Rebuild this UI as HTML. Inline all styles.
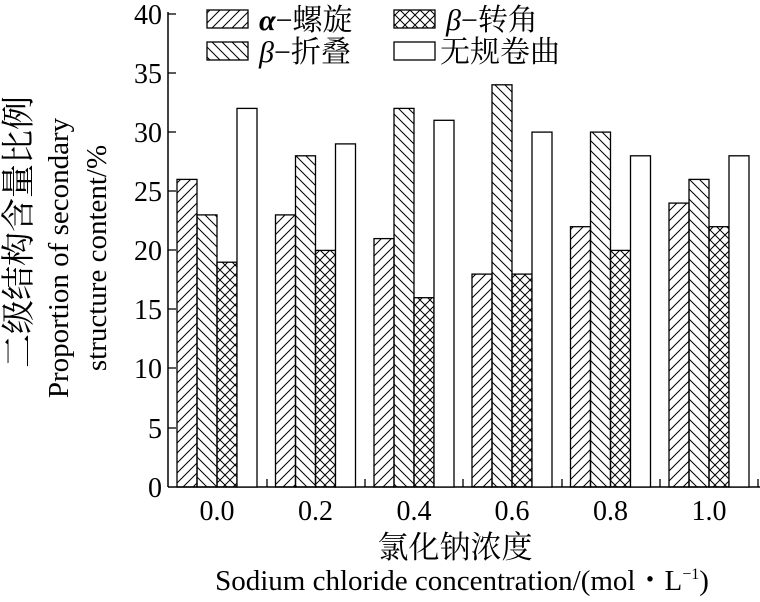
<!DOCTYPE html>
<html><head><meta charset="utf-8"><style>
body{margin:0;background:#fff}
svg text{font-family:"Liberation Serif","Noto Serif CJK SC",serif;fill:#000}
</style></head><body>
<svg width="760" height="597" xmlns="http://www.w3.org/2000/svg">
<defs>
<pattern id="fw" patternUnits="userSpaceOnUse" width="10" height="10"><path d="M-2,12 L12,-2 M-2,2 L2,-2 M8,12 L12,8" stroke="#000" stroke-width="1"/></pattern>
<pattern id="bw" patternUnits="userSpaceOnUse" width="10" height="10"><path d="M-2,-2 L12,12 M8,-2 L12,2 M-2,8 L2,12" stroke="#000" stroke-width="1"/></pattern>
<pattern id="xx" patternUnits="userSpaceOnUse" width="10" height="10"><path d="M-2,12 L12,-2 M-2,2 L2,-2 M8,12 L12,8 M-2,-2 L12,12 M8,-2 L12,2 M-2,8 L2,12" stroke="#000" stroke-width="1"/></pattern>
</defs>
<g stroke="#000" stroke-width="1.5" fill="none">
<line x1="168" y1="12" x2="168" y2="487"/>
<line x1="168" y1="487" x2="760" y2="487"/>
</g>
<g stroke="#000" stroke-width="1.3">
<line x1="168" y1="14" x2="176" y2="14"/><line x1="168" y1="73" x2="176" y2="73"/><line x1="168" y1="132" x2="176" y2="132"/><line x1="168" y1="191" x2="176" y2="191"/><line x1="168" y1="250" x2="176" y2="250"/><line x1="168" y1="309" x2="176" y2="309"/><line x1="168" y1="368" x2="176" y2="368"/><line x1="168" y1="428" x2="176" y2="428"/>
<line x1="267" y1="487" x2="267" y2="479"/><line x1="365" y1="487" x2="365" y2="479"/><line x1="463" y1="487" x2="463" y2="479"/><line x1="562" y1="487" x2="562" y2="479"/><line x1="660" y1="487" x2="660" y2="479"/><line x1="758" y1="487" x2="758" y2="479"/>
</g>
<g font-size="28" text-anchor="end">
<text x="162" y="24">40</text><text x="162" y="83">35</text><text x="162" y="142">30</text><text x="162" y="201">25</text><text x="162" y="260">20</text><text x="162" y="319">15</text><text x="162" y="378">10</text><text x="162" y="438">5</text><text x="162" y="497">0</text>
</g>
<g stroke="#000" stroke-width="1.3">
<rect x="177" y="179.4" width="20" height="307.6" fill="url(#fw)"/>
<rect x="197" y="214.9" width="20" height="272.1" fill="url(#bw)"/>
<rect x="217" y="262.2" width="20" height="224.8" fill="url(#xx)"/>
<rect x="237" y="108.4" width="20" height="378.6" fill="#fff"/>
<rect x="275.5" y="214.9" width="20" height="272.1" fill="url(#fw)"/>
<rect x="295.5" y="155.8" width="20" height="331.2" fill="url(#bw)"/>
<rect x="315.5" y="250.4" width="20" height="236.6" fill="url(#xx)"/>
<rect x="335.5" y="143.9" width="20" height="343.1" fill="#fff"/>
<rect x="374" y="238.6" width="20" height="248.4" fill="url(#fw)"/>
<rect x="394" y="108.4" width="20" height="378.6" fill="url(#bw)"/>
<rect x="414" y="297.7" width="20" height="189.3" fill="url(#xx)"/>
<rect x="434" y="120.3" width="20" height="366.7" fill="#fff"/>
<rect x="472" y="274.1" width="20" height="212.9" fill="url(#fw)"/>
<rect x="492" y="84.8" width="20" height="402.2" fill="url(#bw)"/>
<rect x="512" y="274.1" width="20" height="212.9" fill="url(#xx)"/>
<rect x="532" y="132.1" width="20" height="354.9" fill="#fff"/>
<rect x="570.5" y="226.7" width="20" height="260.3" fill="url(#fw)"/>
<rect x="590.5" y="132.1" width="20" height="354.9" fill="url(#bw)"/>
<rect x="610.5" y="250.4" width="20" height="236.6" fill="url(#xx)"/>
<rect x="630.5" y="155.8" width="20" height="331.2" fill="#fff"/>
<rect x="669" y="203.1" width="20" height="283.9" fill="url(#fw)"/>
<rect x="689" y="179.4" width="20" height="307.6" fill="url(#bw)"/>
<rect x="709" y="226.7" width="20" height="260.3" fill="url(#xx)"/>
<rect x="729" y="155.8" width="20" height="331.2" fill="#fff"/>
</g>
<g font-size="28" text-anchor="middle">
<text x="217" y="520">0.0</text><text x="315.5" y="520">0.2</text><text x="414" y="520">0.4</text><text x="512" y="520">0.6</text><text x="610.5" y="520">0.8</text><text x="709" y="520">1.0</text>
</g>
<g stroke="#000" stroke-width="1.3">
<rect x="207" y="10" width="41" height="18" fill="url(#fw)"/>
<rect x="394" y="10" width="41" height="18" fill="url(#xx)"/>
<rect x="207" y="42" width="41" height="18" fill="url(#bw)"/>
<rect x="394" y="42" width="41" height="18" fill="#fff"/>
</g>
<g font-size="30">
<text x="259" y="30"><tspan font-style="italic" font-weight="bold">α</tspan>−螺旋</text>
<text x="446" y="30"><tspan font-style="italic">β</tspan>−转角</text>
<text x="259" y="62"><tspan font-style="italic">β</tspan>−折叠</text>
<text x="440" y="62">无规卷曲</text>
</g>
<g text-anchor="middle">
<text font-size="34" transform="translate(30,232) rotate(-90)">二级结构含量比例</text>
<text font-size="29" transform="translate(68,258) rotate(-90)">Proportion of secondary</text>
<text font-size="29" transform="translate(106,258) rotate(-90)">structure content/%</text>
<text font-size="31" x="455" y="558">氯化钠浓度</text>
<text font-size="29" x="462" y="590">Sodium chloride concentration/(mol・L<tspan font-size="16" dy="-11">−1</tspan><tspan dy="11">)</tspan></text>
</g>
</svg>
</body></html>
